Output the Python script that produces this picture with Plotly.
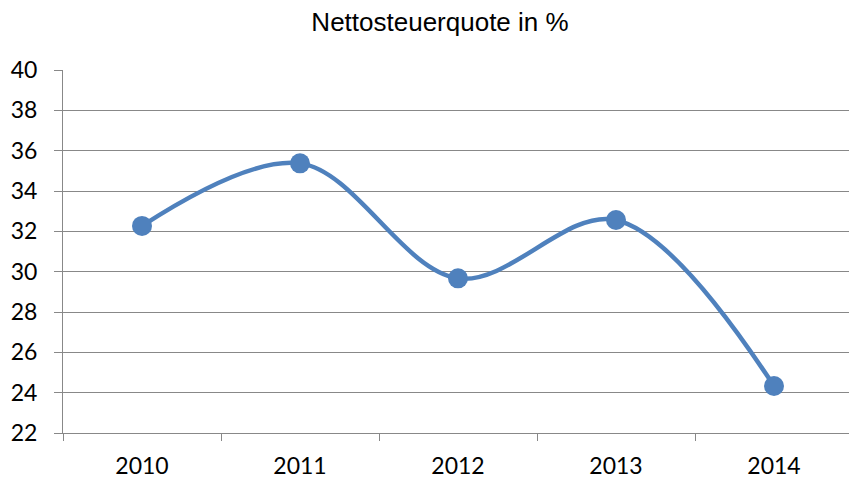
import plotly.graph_objects as go

years = ["2010", "2011", "2012", "2013", "2014"]
quote = [32.27, 35.37, 29.67, 32.56, 24.33]

blue = "#4F81BD"
grid = "#888888"

fig = go.Figure()
fig.add_trace(go.Scatter(
    x=years, y=quote, mode="lines+markers",
    line=dict(color=blue, width=4.5, shape="spline", smoothing=1),
    marker=dict(color=blue, size=20),
    showlegend=False, cliponaxis=False,
))

# plot area runs a little past the right edge of the window, as in the original
fig.update_layout(
    width=853, height=479,
    margin=dict(l=63, r=0, t=70, b=46, autoexpand=False),
    paper_bgcolor="white", plot_bgcolor="white",
    title=dict(text="Nettosteuerquote in %", x=440 / 853, xanchor="center",
               y=1 - 22 / 479, yanchor="middle", yref="container",
               font=dict(family="Liberation Sans", size=26, color="black")),
    font=dict(family="Lato", size=23, color="black"),
)
fig.update_xaxes(
    type="category", range=[-0.5, 4.5],
    showline=True, linecolor=grid, linewidth=1,
    ticks="outside", tickson="boundaries", ticklen=7, tickcolor=grid,
    ticklabelstandoff=12,
    showgrid=False, zeroline=False,
)
fig.update_yaxes(
    range=[22, 40], dtick=2, tick0=22,
    showline=True, linecolor=grid, linewidth=1,
    ticks="outside", ticklen=8, tickcolor=grid,
    ticklabelstandoff=12,
    showgrid=True, gridcolor=grid, gridwidth=1, zeroline=False,
)

fig.write_html(
    "out.html",
    config={"displayModeBar": False},
    post_script="document.body.style.margin='0';document.body.style.overflow='hidden';",
)
